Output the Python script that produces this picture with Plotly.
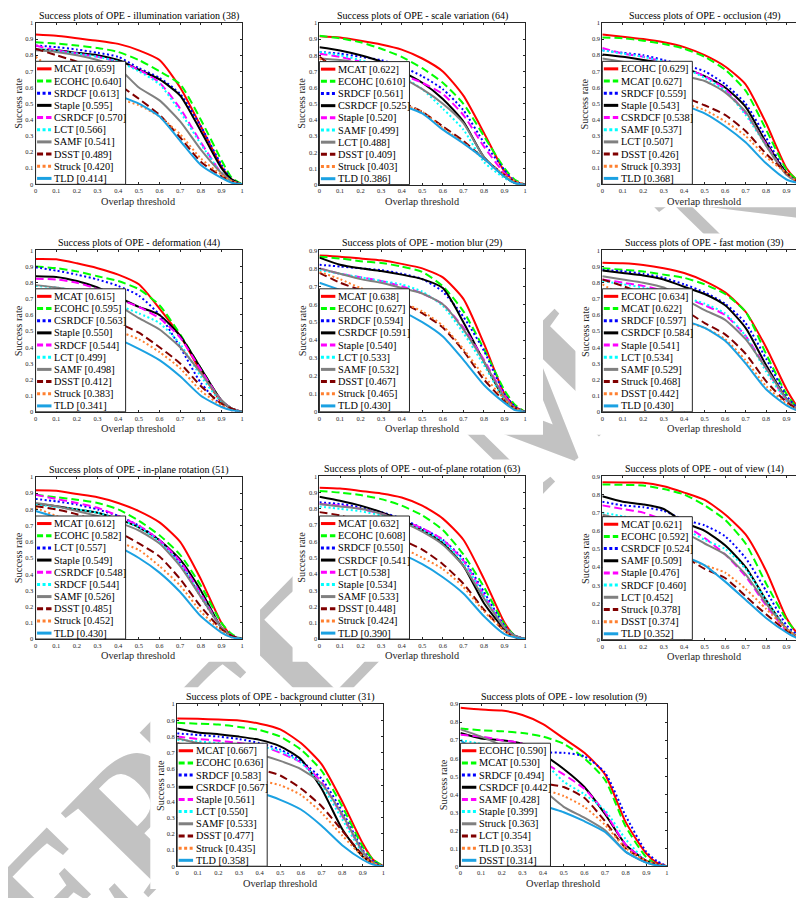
import plotly.graph_objects as go

# ---------------- data ----------------
thresholds = [0, 0.1, 0.2, 0.3, 0.4, 0.5, 0.6, 0.7, 0.8, 0.9, 0.95, 1.0]
x_tick_vals = [0, 0.1, 0.2, 0.3, 0.4, 0.5, 0.6, 0.7, 0.8, 0.9, 1.0]
x_tick_text = ["0", "0.1", "0.2", "0.3", "0.4", "0.5", "0.6", "0.7", "0.8", "0.9", "1"]
y_tick_vals = [0, 0.1, 0.2, 0.3, 0.4, 0.5, 0.6, 0.7, 0.8, 0.9, 1.0]
y_tick_text = ["0", "0.1", "0.2", "0.3", "0.4", "0.5", "0.6", "0.7", "0.8", "0.9", "1"]

titles = [
    "Success plots of OPE - illumination variation (38)",
    "Success plots of OPE - scale variation (64)",
    "Success plots of OPE - occlusion (49)",
    "Success plots of OPE - deformation (44)",
    "Success plots of OPE - motion blur (29)",
    "Success plots of OPE - fast motion (39)",
    "Success plots of OPE - in-plane rotation (51)",
    "Success plots of OPE - out-of-plane rotation (63)",
    "Success plots of OPE - out of view (14)",
    "Success plots of OPE - background clutter (31)",
    "Success plots of OPE - low resolution (9)",
]
y_max = [1, 1, 1, 1, 0.9, 1, 1, 1, 0.9, 1, 0.9]
watermark_text = "ACCEPTED MANUSCRIPT"

iv_names = ["MCAT", "ECOHC", "SRDCF", "Staple", "CSRDCF", "LCT", "SAMF", "DSST", "Struck", "TLD"]
iv_scores = [0.659, 0.640, 0.613, 0.595, 0.570, 0.566, 0.541, 0.489, 0.420, 0.414]
iv_rates = [
    [0.928, 0.92, 0.905, 0.89, 0.87, 0.83, 0.77, 0.60, 0.36, 0.11, 0.03, 0],
    [0.88, 0.872, 0.86, 0.845, 0.82, 0.77, 0.70, 0.62, 0.40, 0.15, 0.04, 0],
    [0.86, 0.85, 0.835, 0.815, 0.79, 0.72, 0.66, 0.56, 0.36, 0.12, 0.03, 0],
    [0.835, 0.83, 0.815, 0.80, 0.77, 0.71, 0.65, 0.55, 0.33, 0.10, 0.03, 0],
    [0.86, 0.83, 0.81, 0.79, 0.76, 0.71, 0.63, 0.47, 0.26, 0.07, 0.02, 0],
    [0.84, 0.825, 0.81, 0.79, 0.76, 0.70, 0.62, 0.45, 0.25, 0.07, 0.02, 0],
    [0.83, 0.82, 0.80, 0.77, 0.72, 0.60, 0.52, 0.39, 0.215, 0.07, 0.02, 0],
    [0.84, 0.80, 0.76, 0.70, 0.62, 0.53, 0.43, 0.29, 0.14, 0.05, 0.02, 0],
    [0.79, 0.70, 0.64, 0.58, 0.53, 0.49, 0.42, 0.31, 0.16, 0.06, 0.02, 0],
    [0.75, 0.70, 0.65, 0.60, 0.55, 0.50, 0.42, 0.27, 0.12, 0.04, 0.01, 0],
]

sv_names = ["MCAT", "ECOHC", "SRDCF", "CSRDCF", "Staple", "SAMF", "LCT", "DSST", "Struck", "TLD"]
sv_scores = [0.622, 0.610, 0.561, 0.525, 0.520, 0.499, 0.488, 0.409, 0.403, 0.386]
sv_rates = [
    [0.918, 0.91, 0.89, 0.867, 0.835, 0.78, 0.70, 0.55, 0.32, 0.08, 0.02, 0],
    [0.92, 0.905, 0.88, 0.84, 0.79, 0.72, 0.63, 0.50, 0.30, 0.10, 0.03, 0],
    [0.82, 0.81, 0.79, 0.77, 0.73, 0.67, 0.59, 0.46, 0.26, 0.09, 0.02, 0],
    [0.85, 0.83, 0.80, 0.76, 0.70, 0.63, 0.53, 0.39, 0.17, 0.05, 0.01, 0],
    [0.81, 0.79, 0.76, 0.72, 0.68, 0.63, 0.56, 0.43, 0.235, 0.07, 0.02, 0],
    [0.82, 0.80, 0.77, 0.73, 0.67, 0.59, 0.47, 0.34, 0.14, 0.04, 0.01, 0],
    [0.78, 0.77, 0.75, 0.71, 0.66, 0.59, 0.50, 0.38, 0.17, 0.05, 0.01, 0],
    [0.79, 0.70, 0.64, 0.57, 0.51, 0.45, 0.36, 0.27, 0.16, 0.06, 0.02, 0],
    [0.78, 0.70, 0.63, 0.56, 0.50, 0.45, 0.35, 0.26, 0.16, 0.06, 0.02, 0],
    [0.72, 0.66, 0.60, 0.54, 0.49, 0.44, 0.34, 0.255, 0.16, 0.05, 0.01, 0],
]

occ_names = ["ECOHC", "MCAT", "SRDCF", "Staple", "CSRDCF", "SAMF", "LCT", "DSST", "Struck", "TLD"]
occ_scores = [0.629, 0.627, 0.559, 0.543, 0.538, 0.537, 0.507, 0.426, 0.393, 0.368]
occ_rates = [
    [0.928, 0.915, 0.90, 0.88, 0.85, 0.80, 0.73, 0.62, 0.38, 0.10, 0.03, 0],
    [0.91, 0.905, 0.89, 0.87, 0.84, 0.79, 0.71, 0.58, 0.34, 0.09, 0.03, 0],
    [0.83, 0.815, 0.80, 0.77, 0.74, 0.70, 0.62, 0.50, 0.29, 0.07, 0.02, 0],
    [0.805, 0.79, 0.77, 0.75, 0.72, 0.67, 0.60, 0.48, 0.26, 0.07, 0.02, 0],
    [0.845, 0.81, 0.79, 0.76, 0.72, 0.67, 0.59, 0.44, 0.25, 0.06, 0.02, 0],
    [0.83, 0.81, 0.79, 0.76, 0.72, 0.66, 0.58, 0.43, 0.24, 0.06, 0.02, 0],
    [0.78, 0.76, 0.74, 0.71, 0.67, 0.64, 0.57, 0.45, 0.24, 0.06, 0.02, 0],
    [0.76, 0.70, 0.64, 0.59, 0.54, 0.49, 0.43, 0.33, 0.19, 0.07, 0.02, 0],
    [0.74, 0.66, 0.60, 0.55, 0.50, 0.46, 0.39, 0.30, 0.17, 0.07, 0.02, 0],
    [0.70, 0.64, 0.59, 0.54, 0.49, 0.44, 0.36, 0.26, 0.13, 0.03, 0.01, 0],
]

def_names = ["MCAT", "ECOHC", "CSRDCF", "Staple", "SRDCF", "LCT", "SAMF", "DSST", "Struck", "TLD"]
def_scores = [0.615, 0.595, 0.563, 0.550, 0.544, 0.499, 0.498, 0.412, 0.383, 0.341]
def_rates = [
    [0.947, 0.945, 0.92, 0.89, 0.85, 0.79, 0.64, 0.47, 0.25, 0.06, 0.02, 0],
    [0.90, 0.89, 0.87, 0.84, 0.81, 0.76, 0.66, 0.48, 0.27, 0.07, 0.02, 0],
    [0.895, 0.875, 0.85, 0.82, 0.78, 0.72, 0.60, 0.40, 0.18, 0.04, 0.01, 0],
    [0.84, 0.835, 0.81, 0.77, 0.71, 0.65, 0.60, 0.47, 0.27, 0.07, 0.02, 0],
    [0.825, 0.82, 0.80, 0.76, 0.70, 0.65, 0.58, 0.46, 0.26, 0.07, 0.02, 0],
    [0.78, 0.77, 0.75, 0.71, 0.66, 0.61, 0.55, 0.42, 0.22, 0.06, 0.02, 0],
    [0.785, 0.77, 0.75, 0.72, 0.66, 0.58, 0.51, 0.40, 0.24, 0.07, 0.02, 0],
    [0.74, 0.68, 0.64, 0.60, 0.55, 0.49, 0.40, 0.30, 0.16, 0.05, 0.02, 0],
    [0.72, 0.65, 0.60, 0.55, 0.50, 0.45, 0.37, 0.27, 0.13, 0.04, 0.01, 0],
    [0.66, 0.60, 0.55, 0.50, 0.45, 0.39, 0.32, 0.22, 0.10, 0.03, 0.01, 0],
]

mb_names = ["MCAT", "ECOHC", "SRDCF", "CSRDCF", "Staple", "LCT", "SAMF", "DSST", "Struck", "TLD"]
mb_scores = [0.638, 0.627, 0.594, 0.591, 0.540, 0.533, 0.532, 0.467, 0.465, 0.430]
mb_rates = [
    [0.871, 0.865, 0.855, 0.845, 0.825, 0.80, 0.75, 0.63, 0.38, 0.10, 0.03, 0],
    [0.865, 0.855, 0.84, 0.83, 0.81, 0.78, 0.70, 0.56, 0.35, 0.12, 0.04, 0],
    [0.82, 0.81, 0.80, 0.79, 0.77, 0.74, 0.67, 0.53, 0.34, 0.10, 0.03, 0],
    [0.86, 0.82, 0.80, 0.785, 0.765, 0.74, 0.69, 0.50, 0.28, 0.07, 0.02, 0],
    [0.80, 0.77, 0.75, 0.73, 0.70, 0.66, 0.60, 0.47, 0.29, 0.09, 0.02, 0],
    [0.79, 0.77, 0.75, 0.73, 0.71, 0.67, 0.59, 0.44, 0.26, 0.07, 0.02, 0],
    [0.80, 0.77, 0.74, 0.72, 0.69, 0.66, 0.60, 0.46, 0.28, 0.08, 0.02, 0],
    [0.775, 0.72, 0.68, 0.65, 0.61, 0.55, 0.47, 0.34, 0.18, 0.06, 0.02, 0],
    [0.78, 0.74, 0.69, 0.65, 0.61, 0.56, 0.48, 0.35, 0.20, 0.07, 0.02, 0],
    [0.72, 0.68, 0.64, 0.60, 0.56, 0.50, 0.42, 0.29, 0.15, 0.05, 0.01, 0],
]

fm_names = ["ECOHC", "MCAT", "SRDCF", "CSRDCF", "Staple", "LCT", "SAMF", "Struck", "DSST", "TLD"]
fm_scores = [0.634, 0.622, 0.597, 0.584, 0.541, 0.534, 0.529, 0.468, 0.442, 0.430]
fm_rates = [
    [0.924, 0.92, 0.91, 0.89, 0.86, 0.81, 0.74, 0.62, 0.40, 0.14, 0.04, 0],
    [0.89, 0.88, 0.87, 0.85, 0.83, 0.79, 0.73, 0.62, 0.36, 0.11, 0.03, 0],
    [0.88, 0.87, 0.855, 0.83, 0.79, 0.74, 0.67, 0.55, 0.33, 0.10, 0.03, 0],
    [0.875, 0.86, 0.845, 0.82, 0.775, 0.73, 0.66, 0.52, 0.29, 0.08, 0.02, 0],
    [0.82, 0.80, 0.78, 0.75, 0.71, 0.66, 0.60, 0.47, 0.27, 0.07, 0.02, 0],
    [0.81, 0.79, 0.77, 0.74, 0.71, 0.67, 0.61, 0.47, 0.25, 0.07, 0.02, 0],
    [0.84, 0.82, 0.80, 0.77, 0.70, 0.63, 0.57, 0.45, 0.27, 0.08, 0.02, 0],
    [0.82, 0.78, 0.73, 0.68, 0.63, 0.55, 0.48, 0.36, 0.19, 0.06, 0.02, 0],
    [0.79, 0.72, 0.66, 0.61, 0.56, 0.52, 0.45, 0.32, 0.16, 0.05, 0.01, 0],
    [0.74, 0.69, 0.64, 0.60, 0.565, 0.52, 0.44, 0.30, 0.14, 0.04, 0.01, 0],
]

ipr_names = ["MCAT", "ECOHC", "LCT", "Staple", "CSRDCF", "SRDCF", "SAMF", "DSST", "Struck", "TLD"]
ipr_scores = [0.612, 0.582, 0.557, 0.549, 0.548, 0.544, 0.526, 0.485, 0.452, 0.430]
ipr_rates = [
    [0.918, 0.915, 0.895, 0.875, 0.84, 0.79, 0.72, 0.60, 0.37, 0.10, 0.02, 0],
    [0.89, 0.875, 0.86, 0.84, 0.80, 0.73, 0.64, 0.52, 0.33, 0.10, 0.03, 0],
    [0.865, 0.85, 0.83, 0.80, 0.76, 0.70, 0.61, 0.47, 0.26, 0.07, 0.02, 0],
    [0.835, 0.82, 0.80, 0.78, 0.74, 0.69, 0.61, 0.49, 0.30, 0.07, 0.02, 0],
    [0.89, 0.865, 0.84, 0.81, 0.76, 0.70, 0.61, 0.48, 0.28, 0.07, 0.02, 0],
    [0.83, 0.815, 0.80, 0.78, 0.74, 0.69, 0.60, 0.46, 0.27, 0.07, 0.02, 0],
    [0.84, 0.82, 0.79, 0.76, 0.72, 0.67, 0.59, 0.45, 0.26, 0.07, 0.02, 0],
    [0.82, 0.80, 0.77, 0.72, 0.66, 0.59, 0.51, 0.37, 0.20, 0.06, 0.02, 0],
    [0.81, 0.76, 0.71, 0.66, 0.60, 0.55, 0.45, 0.33, 0.17, 0.05, 0.01, 0],
    [0.79, 0.75, 0.69, 0.63, 0.57, 0.50, 0.41, 0.29, 0.14, 0.04, 0.01, 0],
]

opr_names = ["MCAT", "ECOHC", "SRDCF", "CSRDCF", "LCT", "Staple", "SAMF", "DSST", "Struck", "TLD"]
opr_scores = [0.632, 0.608, 0.550, 0.541, 0.538, 0.534, 0.533, 0.448, 0.424, 0.390]
opr_rates = [
    [0.93, 0.925, 0.91, 0.895, 0.87, 0.82, 0.74, 0.61, 0.37, 0.10, 0.02, 0],
    [0.91, 0.90, 0.885, 0.86, 0.82, 0.76, 0.67, 0.52, 0.32, 0.09, 0.02, 0],
    [0.84, 0.83, 0.81, 0.78, 0.74, 0.68, 0.61, 0.49, 0.29, 0.08, 0.02, 0],
    [0.875, 0.85, 0.82, 0.78, 0.73, 0.67, 0.59, 0.45, 0.22, 0.06, 0.02, 0],
    [0.83, 0.82, 0.80, 0.77, 0.73, 0.68, 0.61, 0.48, 0.27, 0.07, 0.02, 0],
    [0.815, 0.80, 0.785, 0.76, 0.72, 0.67, 0.60, 0.47, 0.27, 0.07, 0.02, 0],
    [0.83, 0.815, 0.80, 0.77, 0.72, 0.66, 0.58, 0.45, 0.25, 0.07, 0.02, 0],
    [0.78, 0.76, 0.72, 0.67, 0.61, 0.55, 0.46, 0.34, 0.18, 0.05, 0.01, 0],
    [0.75, 0.70, 0.66, 0.61, 0.56, 0.50, 0.43, 0.32, 0.17, 0.05, 0.01, 0],
    [0.70, 0.66, 0.61, 0.56, 0.52, 0.46, 0.38, 0.28, 0.14, 0.03, 0.01, 0],
]

ov_names = ["MCAT", "ECOHC", "CSRDCF", "SAMF", "Staple", "SRDCF", "LCT", "Struck", "DSST", "TLD"]
ov_scores = [0.621, 0.592, 0.524, 0.509, 0.476, 0.460, 0.452, 0.378, 0.374, 0.352]
ov_rates = [
    [0.867, 0.866, 0.865, 0.845, 0.81, 0.77, 0.69, 0.58, 0.38, 0.12, 0.04, 0],
    [0.855, 0.853, 0.85, 0.83, 0.80, 0.74, 0.66, 0.53, 0.31, 0.11, 0.04, 0],
    [0.76, 0.74, 0.73, 0.71, 0.66, 0.63, 0.57, 0.45, 0.27, 0.08, 0.03, 0],
    [0.79, 0.76, 0.745, 0.72, 0.645, 0.60, 0.52, 0.40, 0.22, 0.06, 0.02, 0],
    [0.74, 0.72, 0.70, 0.66, 0.63, 0.56, 0.47, 0.35, 0.19, 0.05, 0.02, 0],
    [0.70, 0.68, 0.66, 0.64, 0.61, 0.55, 0.50, 0.39, 0.22, 0.06, 0.02, 0],
    [0.69, 0.66, 0.64, 0.62, 0.59, 0.53, 0.47, 0.36, 0.20, 0.06, 0.02, 0],
    [0.68, 0.62, 0.57, 0.52, 0.46, 0.39, 0.34, 0.24, 0.14, 0.05, 0.02, 0],
    [0.62, 0.57, 0.53, 0.49, 0.45, 0.41, 0.37, 0.28, 0.17, 0.06, 0.02, 0],
    [0.62, 0.58, 0.54, 0.50, 0.46, 0.41, 0.32, 0.22, 0.12, 0.04, 0.01, 0],
]

bc_names = ["MCAT", "ECOHC", "SRDCF", "CSRDCF", "Staple", "LCT", "SAMF", "DSST", "Struck", "TLD"]
bc_scores = [0.667, 0.636, 0.583, 0.567, 0.561, 0.550, 0.533, 0.477, 0.435, 0.358]
bc_rates = [
    [0.912, 0.91, 0.905, 0.90, 0.88, 0.845, 0.76, 0.63, 0.40, 0.14, 0.04, 0],
    [0.885, 0.88, 0.875, 0.86, 0.84, 0.80, 0.72, 0.59, 0.37, 0.12, 0.04, 0],
    [0.82, 0.81, 0.80, 0.785, 0.76, 0.72, 0.65, 0.54, 0.34, 0.10, 0.03, 0],
    [0.85, 0.825, 0.815, 0.80, 0.78, 0.74, 0.66, 0.48, 0.23, 0.06, 0.02, 0],
    [0.80, 0.785, 0.775, 0.76, 0.745, 0.70, 0.64, 0.52, 0.31, 0.09, 0.02, 0],
    [0.78, 0.77, 0.76, 0.75, 0.74, 0.71, 0.64, 0.50, 0.29, 0.08, 0.02, 0],
    [0.79, 0.76, 0.74, 0.72, 0.69, 0.65, 0.60, 0.51, 0.32, 0.09, 0.02, 0],
    [0.76, 0.72, 0.69, 0.65, 0.60, 0.56, 0.48, 0.37, 0.22, 0.07, 0.02, 0],
    [0.72, 0.66, 0.61, 0.57, 0.53, 0.50, 0.44, 0.33, 0.19, 0.06, 0.02, 0],
    [0.62, 0.57, 0.53, 0.49, 0.455, 0.41, 0.35, 0.25, 0.13, 0.04, 0.01, 0],
]

lr_names = ["ECOHC", "MCAT", "SRDCF", "CSRDCF", "SAMF", "Staple", "Struck", "LCT", "TLD", "DSST"]
lr_scores = [0.590, 0.530, 0.494, 0.442, 0.428, 0.399, 0.363, 0.354, 0.353, 0.314]
lr_rates = [
    [0.88, 0.87, 0.865, 0.84, 0.79, 0.71, 0.63, 0.51, 0.245, 0.07, 0.02, 0],
    [0.765, 0.755, 0.75, 0.74, 0.72, 0.68, 0.60, 0.48, 0.22, 0.05, 0.01, 0],
    [0.64, 0.63, 0.63, 0.62, 0.63, 0.63, 0.61, 0.52, 0.28, 0.08, 0.03, 0],
    [0.74, 0.71, 0.70, 0.68, 0.62, 0.54, 0.44, 0.29, 0.12, 0.03, 0.01, 0],
    [0.73, 0.72, 0.70, 0.68, 0.58, 0.51, 0.43, 0.30, 0.12, 0.03, 0.01, 0],
    [0.70, 0.68, 0.66, 0.63, 0.58, 0.47, 0.40, 0.31, 0.15, 0.03, 0.01, 0],
    [0.76, 0.72, 0.67, 0.60, 0.43, 0.33, 0.27, 0.20, 0.08, 0.02, 0.005, 0],
    [0.62, 0.55, 0.50, 0.47, 0.46, 0.44, 0.38, 0.25, 0.10, 0.03, 0.01, 0],
    [0.66, 0.60, 0.54, 0.49, 0.43, 0.39, 0.33, 0.23, 0.10, 0.03, 0.01, 0],
    [0.70, 0.62, 0.52, 0.42, 0.34, 0.30, 0.25, 0.19, 0.08, 0.02, 0.005, 0],
]

all_names = [iv_names, sv_names, occ_names, def_names, mb_names, fm_names,
             ipr_names, opr_names, ov_names, bc_names, lr_names]
all_scores = [iv_scores, sv_scores, occ_scores, def_scores, mb_scores, fm_scores,
              ipr_scores, opr_scores, ov_scores, bc_scores, lr_scores]
all_rates = [iv_rates, sv_rates, occ_rates, def_rates, mb_rates, fm_rates,
             ipr_rates, opr_rates, ov_rates, bc_rates, lr_rates]

# ---------------- styling / layout ----------------
PAGE_W, PAGE_H = 804, 898
OFF = 8                       # default page body margin that shifts the figure
W, H = PAGE_W - OFF, PAGE_H - OFF
FONT = "Liberation Serif"
AX = "#262626"
STYLES = [
    ("#FF0000", "solid", "solid"),
    ("#00FF00", "8px,4px", "6px,3px"),
    ("#0000FF", "2px,2.5px", "3px,2.5px"),
    ("#000000", "solid", "solid"),
    ("#FF00FF", "8px,4px", "6px,3px"),
    ("#00FFFF", "2px,2.5px", "3px,2.5px"),
    ("#808080", "solid", "solid"),
    ("#800000", "8px,4px", "6px,3px"),
    ("#FF8030", "2px,2.5px", "3px,2.5px"),
    ("#1BA1E2", "solid", "solid"),
]
# panel plot-area boxes in page pixels: left, right, top, bottom
PANELS = [
    (33.7, 241.3, 19.0, 181.7),
    (319.0, 525.7, 19.0, 182.0),
    (603.3, 809.0, 19.0, 181.7),
    (33.7, 241.3, 248.3, 411.0),
    (319.0, 525.7, 248.3, 411.0),
    (603.3, 809.0, 248.3, 411.0),
    (33.7, 241.3, 476.7, 640.0),
    (319.0, 525.7, 476.0, 640.0),
    (603.3, 809.0, 476.0, 640.7),
    (176.0, 383.3, 705.7, 869.0),
    (460.7, 668.3, 705.7, 869.0),
]


def px(xp):
    return (xp - OFF) / W


def py(yp):
    return 1 - (yp - OFF) / H


fig = go.Figure()
shapes = []
annotations = []
layout_axes = {}

# background watermark (light grey, diagonal), hidden behind each figure panel
wm_cx, wm_cy = 531.0, 388.0
wm_dx, wm_dy = 0.699, 0.715
wm_half = 300.0
shapes.append(dict(
    type="line", xref="paper", yref="paper", layer="below",
    x0=px(wm_cx - wm_half * wm_dx), y0=py(wm_cy + wm_half * wm_dy),
    x1=px(wm_cx + wm_half * wm_dx), y1=py(wm_cy - wm_half * wm_dy),
    line=dict(color="rgba(0,0,0,0)", width=1),
    label=dict(text=watermark_text, textposition="middle", textangle=-45.6,
               xanchor="center", yanchor="middle", padding=0,
               font=dict(family=FONT, size=185, color="#C2C2C2", weight="bold")),
))
for (left, right, top, bottom) in PANELS:
    shapes.append(dict(
        type="rect", xref="paper", yref="paper", layer="below",
        x0=px(left - 27), x1=px(min(right + 18, PAGE_W + 2)),
        y0=py(bottom + 23), y1=py(top - 17),
        fillcolor="white", line=dict(width=0),
    ))

for i in range(11):
    k = i + 1
    xs = "" if k == 1 else str(k)
    left, right, top, bottom = PANELS[i]
    full_w = right - left
    ph = bottom - top
    vis_right = min(right, PAGE_W)
    pw = vis_right - left
    xmax = pw / full_w
    cut = right > PAGE_W

    names, scores, rates = all_names[i], all_scores[i], all_rates[i]
    for j in range(10):
        color, dash, _ = STYLES[j]
        fig.add_trace(go.Scatter(
            x=thresholds, y=rates[j], xaxis="x" + xs, yaxis="y" + xs,
            mode="lines", showlegend=False, hoverinfo="skip",
            line=dict(color=color, width=2, dash=dash, shape="spline", smoothing=0.6),
        ))

    layout_axes["xaxis" + xs] = dict(
        domain=[px(left), px(vis_right)], range=[0, xmax], anchor="y" + xs,
        tickvals=x_tick_vals, ticktext=x_tick_text, ticks="inside", ticklen=2,
        tickcolor=AX, tickwidth=0.8, showline=True, linecolor=AX, linewidth=1,
        mirror="ticks", showgrid=False, zeroline=False, fixedrange=True,
        tickfont=dict(family=FONT, size=6.5, color=AX),
    )
    layout_axes["yaxis" + xs] = dict(
        domain=[py(bottom), py(top)], range=[0, y_max[i]], anchor="x" + xs,
        tickvals=y_tick_vals, ticktext=y_tick_text, ticks="inside", ticklen=2,
        tickcolor=AX, tickwidth=0.8, showline=True, linecolor=AX, linewidth=1,
        mirror=False if cut else "ticks", showgrid=False, zeroline=False, fixedrange=True,
        tickfont=dict(family=FONT, size=6.5, color=AX),
    )

    annotations.append(dict(
        text=titles[i], x=px((left + right) / 2), y=py(top - 7),
        xref="paper", yref="paper", showarrow=False, xanchor="center", yanchor="middle",
        font=dict(family=FONT, size=10, color="#000000"),
    ))
    annotations.append(dict(
        text="Overlap threshold", x=px((left + right) / 2), y=py(bottom + 17),
        xref="paper", yref="paper", showarrow=False, xanchor="center", yanchor="middle",
        font=dict(family=FONT, size=10.3, color=AX),
    ))
    annotations.append(dict(
        text="Success rate", x=px(left - 17.5), y=py((top + bottom) / 2),
        xref="paper", yref="paper", showarrow=False, xanchor="center", yanchor="middle",
        textangle=-90, font=dict(family=FONT, size=10.3, color=AX),
    ))

    # legend box (drawn manually, MATLAB-style compact legend)
    xr, yr = "x" + xs + " domain", "y" + xs + " domain"
    box_w, box_h = 90.5, 124.0
    shapes.append(dict(
        type="rect", xref=xr, yref=yr, x0=0, x1=box_w / pw, y0=0, y1=box_h / ph,
        fillcolor="white", line=dict(color=AX, width=1), layer="above",
    ))
    for j in range(10):
        color, _, ldash = STYLES[j]
        yy = (box_h - 7.6 - j * 12.27) / ph
        shapes.append(dict(
            type="line", xref=xr, yref=yr, x0=1.5 / pw, x1=16.0 / pw, y0=yy, y1=yy,
            line=dict(color=color, width=3, dash=ldash), layer="above",
        ))
        annotations.append(dict(
            text=f"{names[j]} [{scores[j]:.3f}]", x=17.0 / pw, y=yy, xref=xr, yref=yr,
            showarrow=False, xanchor="left", yanchor="middle",
            font=dict(family=FONT, size=10.3, color="#000000"),
        ))

fig.update_layout(
    width=W, height=H, autosize=False,
    margin=dict(l=0, r=0, t=0, b=0, pad=0),
    paper_bgcolor="white", plot_bgcolor="rgba(0,0,0,0)",
    showlegend=False, shapes=shapes, annotations=annotations,
    font=dict(family=FONT),
    **layout_axes,
)

fig.write_html("out.html")
